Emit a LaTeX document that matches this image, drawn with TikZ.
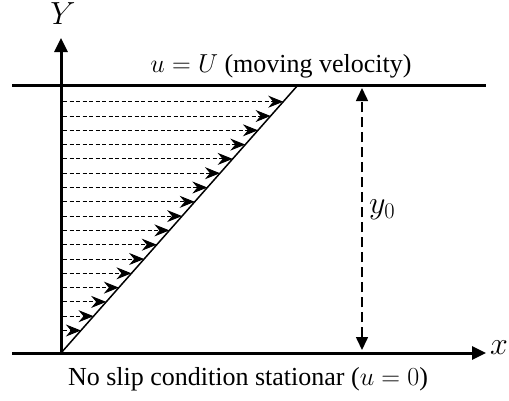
\RequirePackage{fix-cm}
\documentclass[tikz,border=0pt]{standalone}
\usepackage{fontspec}
\setmainfont{Liberation Serif}
\usetikzlibrary{arrows.meta,calc}
\begin{document}
\begin{tikzpicture}[x=1pt,y=-1pt,
  axis/.style={line width=3pt},
  axarrow/.style={line width=3pt,-{Triangle[length=14pt,width=13pt]}},
  profile/.style={line width=1.5pt},
  vel/.style={line width=0.9pt,dash pattern=on 4pt off 2.5pt,-{Stealth[length=15pt,width=12pt,inset=5pt]}},
  dim/.style={line width=1.6pt,dash pattern=on 10pt off 5pt,{Triangle[length=13pt,width=12pt]}-{Triangle[length=13pt,width=12pt]}},
  lbl/.style={inner sep=0pt,font=\fontsize{26}{30}\selectfont},
  mlbl/.style={inner sep=0pt,font=\fontsize{32}{36}\selectfont}]
\useasboundingbox (0,0) rectangle (509,400);
% key points
\coordinate (O) at (61,353);
\coordinate (Ytip) at (61,38);
\coordinate (BL) at (12,353);
\coordinate (Xtip) at (486,353);
\coordinate (TL) at (12,85);
\coordinate (TR) at (486,85);
\coordinate (D) at (298,85);
\coordinate (Dtop) at (362,88);
\coordinate (Dbot) at (362,350);
% plates and axes
\draw[axis] (TL) -- (TR);
\draw[axarrow] (BL) -- (Xtip);
\draw[axarrow] (O) -- (Ytip);
% velocity profile
\draw[profile] (O) -- (D);
\foreach \i in {0,...,16}{
  \pgfmathsetmacro{\t}{(251.3-14.3*\i)/268}
  \coordinate (p\i) at ($(O)!\t!(D)$);
  \coordinate (s\i) at ($(O |- p\i)+(2,0)$);
  \draw[vel] (s\i) -- (p\i);
}
% thickness dimension
\draw[dim] (Dbot) -- (Dtop);
% labels
\node[mlbl] (Ylbl) at (63,14) {$Y$};
\node[mlbl] (xlbl) at (499,348) {$x$};
\node[mlbl,anchor=west] (y0lbl) at (369,210) {$y_0$};
\node[lbl] (top) at (281,66) {$u=U$ (moving velocity)};
\node[lbl] (bot) at (248,379) {No slip condition stationar ($u=0$)};
\end{tikzpicture}
\end{document}
